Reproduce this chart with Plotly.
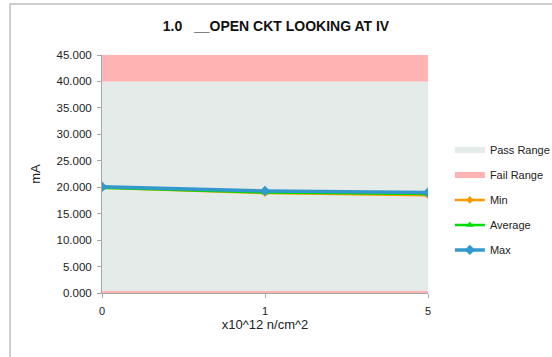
import plotly.graph_objects as go

# Fluence categories (x10^12 n/cm^2)
categories = ["0", "1", "5"]

# Measured current (mA)
min_vals = [19.9, 18.9, 18.5]
avg_vals = [19.9, 19.0, 18.7]
max_vals = [20.1, 19.3, 19.0]

# Limit bands (stacked): lower fail, pass window, upper fail
fail_low = [0.4, 0.4, 0.4]
pass_band = [39.6, 39.6, 39.6]
fail_high = [5.0, 5.0, 5.0]

PASS_COLOR = "#E5EBE9"
FAIL_COLOR = "#FFB3B3"
FONT = "Liberation Sans Narrow, Liberation Sans, Arial, sans-serif"

fig = go.Figure()

fig.add_trace(go.Scatter(
    x=categories, y=fail_low, stackgroup="ranges", mode="none",
    fillcolor=FAIL_COLOR, name="Fail Range", showlegend=False,
    legendgroup="fail_lo", hoverinfo="skip"))
fig.add_trace(go.Scatter(
    x=categories, y=pass_band, stackgroup="ranges", mode="none",
    fillcolor=PASS_COLOR, name="Pass Range", legendrank=1,
    legendgroup="pass", hoverinfo="skip"))
fig.add_trace(go.Scatter(
    x=categories, y=fail_high, stackgroup="ranges", mode="none",
    fillcolor=FAIL_COLOR, name="Fail Range", legendrank=2,
    legendgroup="fail", hoverinfo="skip"))

fig.add_trace(go.Scatter(
    x=categories, y=min_vals, name="Min", mode="lines+markers",
    line=dict(color="#FF9900", width=2.5),
    marker=dict(symbol="diamond", size=6, color="#FF9900"),
    legendrank=3, legendgroup="min"))
fig.add_trace(go.Scatter(
    x=categories, y=avg_vals, name="Average", mode="lines+markers",
    line=dict(color="#00DD00", width=2.5),
    marker=dict(symbol="triangle-up", size=7, color="#00DD00"),
    legendrank=4, legendgroup="avg"))
fig.add_trace(go.Scatter(
    x=categories, y=max_vals, name="Max", mode="lines+markers",
    line=dict(color="#3399CC", width=3.5),
    marker=dict(symbol="diamond", size=8, color="#3399CC"),
    legendrank=5, legendgroup="max"))

fig.update_layout(
    width=552, height=357,
    margin=dict(l=102, r=124, t=55, b=64, autoexpand=False),
    paper_bgcolor="white", plot_bgcolor="white",
    font=dict(family=FONT, size=11, color="#222222"),
    title=dict(text="<b>1.0   __OPEN CKT LOOKING AT IV</b>",
               x=0.5, xanchor="center", y=0.927, yanchor="middle",
               font=dict(size=14, family=FONT, color="#111111")),
    showlegend=True,
    legend=dict(xref="container", yref="container",
                x=0.815, xanchor="left", y=0.44, yanchor="middle",
                traceorder="grouped", tracegroupgap=6,
                font=dict(size=11, family=FONT), bgcolor="rgba(0,0,0,0)",
                itemwidth=30),
    xaxis=dict(type="category", range=[0, 2], showgrid=False,
               showline=True, linecolor="#A6A6A6", linewidth=1,
               ticks="outside", ticklen=4, tickcolor="#A6A6A6",
               tickfont=dict(size=11), zeroline=False,
               ticklabelstandoff=4,
               title=dict(text="x10^12 n/cm^2", font=dict(size=13), standoff=2)),
    yaxis=dict(range=[0, 45], dtick=5, tickformat=".3f", showgrid=False,
               showline=True, linecolor="#A6A6A6", linewidth=1,
               ticks="outside", ticklen=4, tickcolor="#A6A6A6",
               tickfont=dict(size=11.5), zeroline=False,
               ticklabelstandoff=3,
               title=dict(text="mA", font=dict(size=13), standoff=12)),
    shapes=[dict(type="rect", xref="paper", yref="paper",
                 x0=-0.282, x1=1.6, y0=-0.5, y1=1.214,
                 line=dict(color="#BFBFBF", width=1.5), layer="below")],
)

fig.write_html("out.html")
